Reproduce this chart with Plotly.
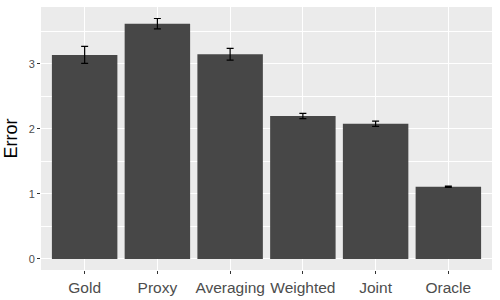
import plotly.graph_objects as go

methods = ["Gold", "Proxy", "Averaging", "Weighted", "Joint", "Oracle"]
error_mean = [3.14, 3.62, 3.15, 2.20, 2.08, 1.11]
error_se = [0.13, 0.08, 0.09, 0.04, 0.04, 0.01]

fig = go.Figure()
fig.add_trace(go.Bar(
    x=methods, y=error_mean, width=0.9,
    marker=dict(color="#474747", line=dict(width=0)),
    error_y=dict(type="data", array=error_se, visible=True,
                 color="black", thickness=1.2, width=3.5),
))

fig.update_layout(
    width=500, height=300,
    margin=dict(l=41, r=8, t=7, b=30, autoexpand=False),
    paper_bgcolor="white", plot_bgcolor="#EBEBEB",
    font=dict(family="Liberation Sans, Arial, sans-serif"),
    showlegend=False, bargap=0.1,
)
fig.update_xaxes(
    automargin=False,
    range=[-0.6, 5.6], showgrid=True, gridcolor="white", gridwidth=1.1,
    ticks="outside", ticklen=3, tickcolor="#333333", tickwidth=1,
    tickfont=dict(size=15.5, color="#4D4D4D"), zeroline=False, showline=False,
)
fig.update_yaxes(
    automargin=False,
    range=[-0.17, 3.877], tickvals=[0, 1, 2, 3], showgrid=True,
    gridcolor="white", gridwidth=1.1,
    minor=dict(tickvals=[0.5, 1.5, 2.5, 3.5], showgrid=True, gridcolor="white", gridwidth=0.5, ticks=""),
    ticks="outside", ticklen=3, tickcolor="#333333", tickwidth=1,
    tickfont=dict(size=11, color="#4D4D4D"), zeroline=False, showline=False,
    title=dict(text="Error", font=dict(size=18, color="black"), standoff=6),
)

fig.write_html("out.html", config={"displayModeBar": False},
               post_script="document.body.style.margin='0';document.body.style.overflow='hidden';")
